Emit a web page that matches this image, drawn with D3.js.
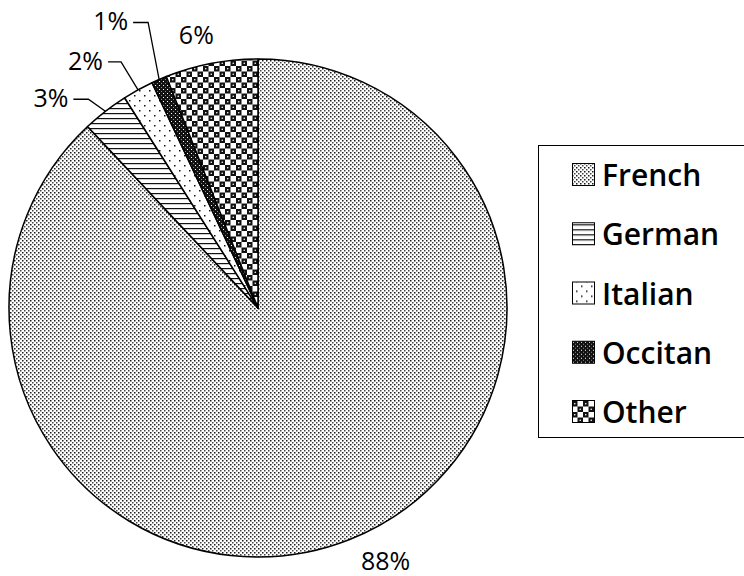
<!DOCTYPE html>
<html>
<head>
<meta charset="UTF-8">
<title>Languages</title>
<script src="https://d3js.org/d3.v7.min.js"></script>
<style>
body { margin: 0; background: #fff; }
svg { display: block; font-family: "Open Sans", "DejaVu Sans", sans-serif; }
</style>
</head>
<body>
<svg id="chart" width="744" height="576"></svg>
<script>
var categories = ["French", "German", "Italian", "Occitan", "Other"];
var shares = [88, 3, 2, 1, 6];
var labels = ["88%", "3%", "2%", "1%", "6%"];
var patterns = ["pFrench", "pGerman", "pItalian", "pOccitan", "pOther"];

var cx = 258, cy = 308, radius = 249;
var svg = d3.select("#chart");
var defs = svg.append("defs");

// fill patterns, one per language
var p = defs.append("pattern").attr("id", "pFrench").attr("patternUnits", "userSpaceOnUse")
  .attr("width", 4).attr("height", 4);
p.append("rect").attr("width", 4).attr("height", 4).attr("fill", "#fff");
p.append("rect").attr("x", 0).attr("y", 0).attr("width", 1.5).attr("height", 1.5).attr("fill", "#1a1a1a");
p.append("rect").attr("x", 2).attr("y", 2).attr("width", 1.5).attr("height", 1.5).attr("fill", "#444");

p = defs.append("pattern").attr("id", "pGerman").attr("patternUnits", "userSpaceOnUse")
  .attr("width", 6).attr("height", 5);
p.append("rect").attr("width", 6).attr("height", 5).attr("fill", "#fff");
p.append("rect").attr("y", 0).attr("width", 6).attr("height", 1.2).attr("fill", "#111");

p = defs.append("pattern").attr("id", "pItalian").attr("patternUnits", "userSpaceOnUse")
  .attr("width", 10).attr("height", 10);
p.append("rect").attr("width", 10).attr("height", 10).attr("fill", "#fff");
p.append("rect").attr("x", 1).attr("y", 2).attr("width", 1.5).attr("height", 1.5).attr("fill", "#111");
p.append("rect").attr("x", 6).attr("y", 7).attr("width", 1.5).attr("height", 1.5).attr("fill", "#111");

p = defs.append("pattern").attr("id", "pOccitan").attr("patternUnits", "userSpaceOnUse")
  .attr("width", 4).attr("height", 4);
p.append("rect").attr("width", 4).attr("height", 4).attr("fill", "#111");
p.append("rect").attr("x", 1).attr("y", 1).attr("width", 1).attr("height", 1).attr("fill", "#fff");
p.append("rect").attr("x", 3).attr("y", 3).attr("width", 1).attr("height", 1).attr("fill", "#888");

p = defs.append("pattern").attr("id", "pOther").attr("patternUnits", "userSpaceOnUse")
  .attr("width", 11).attr("height", 11);
p.append("rect").attr("width", 11).attr("height", 11).attr("fill", "#fff");
p.append("rect").attr("x", 0).attr("y", 0).attr("width", 5.5).attr("height", 5.5).attr("fill", "#111");
p.append("rect").attr("x", 5.5).attr("y", 5.5).attr("width", 5.5).attr("height", 5.5).attr("fill", "#111");
p.append("circle").attr("cx", 2.75).attr("cy", 2.75).attr("r", 0.8).attr("fill", "#fff");
p.append("circle").attr("cx", 8.25).attr("cy", 8.25).attr("r", 0.8).attr("fill", "#fff");

var data = categories.map(function(c, i) {
  return { name: c, value: shares[i], label: labels[i], pat: patterns[i] };
});

var pie = d3.pie().sort(null).value(function(d) { return d.value; });
var arc = d3.arc().innerRadius(0).outerRadius(radius);
var rim = d3.arc().innerRadius(radius).outerRadius(radius);
var arcs = pie(data);

var g = svg.append("g").attr("transform", "translate(" + cx + "," + cy + ")");

g.selectAll("path.slice").data(arcs).enter().append("path")
  .attr("class", "slice")
  .attr("d", arc)
  .attr("fill", function(d) { return "url(#" + d.data.pat + ")"; })
  .attr("stroke", "#000")
  .attr("stroke-width", 1.5)
  .attr("stroke-linejoin", "round");

// label placement relative to the rim point of each slice
var place = {
  French:  { leader: false, dx: 36, dy: 30 },
  German:  { leader: true, ex: -17, ey: -12, len: 15 },
  Italian: { leader: true, ex: -17, ey: -28, len: 13 },
  Occitan: { leader: true, ex: -11, ey: -57, len: 15 },
  Other:   { leader: false, dx: -15, dy: -19 }
};

arcs.forEach(function(d) {
  var c = rim.centroid(d);
  var pl = place[d.data.name];
  if (pl.leader) {
    var ex = c[0] + pl.ex, ey = c[1] + pl.ey;
    g.append("polyline")
      .attr("points", [[c[0], c[1]], [ex, ey], [ex - pl.len, ey]].map(function(q) { return q.join(","); }).join(" "))
      .attr("fill", "none").attr("stroke", "#000").attr("stroke-width", 1.3);
    g.append("text")
      .attr("x", ex - pl.len - 5).attr("y", ey + 8)
      .attr("text-anchor", "end")
      .attr("font-size", 25)
      .attr("font-weight", 500)
      .text(d.data.label);
  } else {
    g.append("text")
      .attr("x", c[0] + pl.dx).attr("y", c[1] + pl.dy)
      .attr("text-anchor", "middle")
      .attr("font-size", 25)
      .attr("font-weight", 500)
      .text(d.data.label);
  }
});

// legend
var legend = svg.append("g");
legend.append("rect")
  .attr("x", 538.5).attr("y", 145.5).attr("width", 230).attr("height", 292)
  .attr("fill", "none").attr("stroke", "#000").attr("stroke-width", 1);

var rowY = d3.scalePoint().domain(categories).range([175, 412]);

var rows = legend.selectAll("g.row").data(data).enter().append("g")
  .attr("class", "row")
  .attr("transform", function(d) { return "translate(0," + rowY(d.name) + ")"; });

rows.append("rect")
  .attr("x", 572.5).attr("y", -11.5).attr("width", 22).attr("height", 22)
  .attr("fill", function(d) { return "url(#" + d.pat + ")"; })
  .attr("stroke", "#000").attr("stroke-width", 1);

rows.append("text")
  .attr("x", 602).attr("y", 11)
  .attr("font-size", 30)
  .attr("font-weight", 600)
  .text(function(d) { return d.name; });
</script>
</body>
</html>
